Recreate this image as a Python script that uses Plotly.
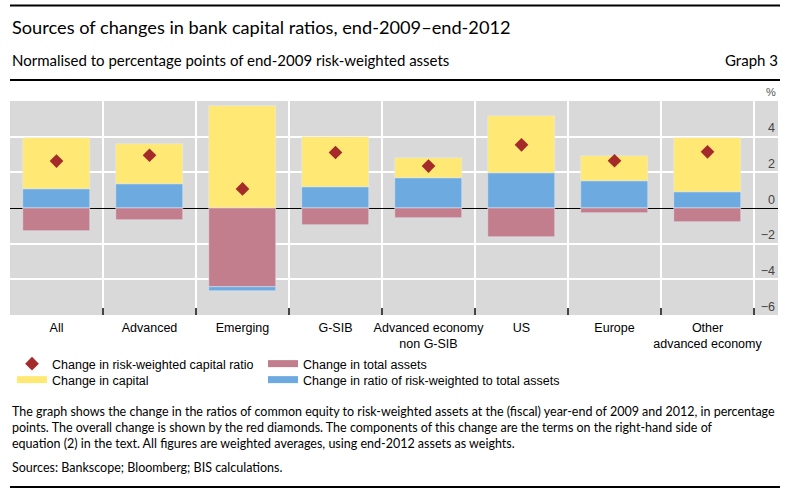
import plotly.graph_objects as go

categories = ["All", "Advanced", "Emerging", "G-SIB", "Advanced economy<br>non G-SIB",
              "US", "Europe", "Other<br>advanced economy"]
total_assets = [-1.31, -0.65, -4.43, -0.93, -0.54, -1.65, -0.26, -0.81]
rw_ratio = [1.06, 1.33, -0.22, 1.17, 1.67, 1.94, 1.50, 0.89]
capital = [2.87, 2.28, 5.72, 2.83, 1.14, 3.23, 1.43, 3.04]
rw_capital_ratio = [2.63, 2.96, 1.07, 3.11, 2.35, 3.54, 2.65, 3.15]
y_ticks = [-6, -4, -2, 0, 2, 4]

YELLOW = "#FFE873"
BLUE = "#6CAAE0"
RED = "#C27E8C"
DIAMOND = "#A52A2A"
BG = "#D9D9D9"

W, H = 793, 489
PL, PR, PT, PB = 10, 778, 101, 315  # plot area in px


def px_x(p):
    return (p - PL) / (PR - PL)


def px_y(p):
    return (PB - p) / (PB - PT)


xs = list(range(len(categories)))
fig = go.Figure()
fig.add_trace(go.Bar(x=xs, y=total_assets, marker_color=RED, width=0.71,
                     showlegend=False, hoverinfo="y"))
fig.add_trace(go.Bar(x=xs, y=rw_ratio, marker_color=BLUE, width=0.71,
                     showlegend=False, hoverinfo="y"))
fig.add_trace(go.Bar(x=xs, y=capital, marker_color=YELLOW, width=0.71,
                     showlegend=False, hoverinfo="y"))
fig.add_trace(go.Scatter(x=xs, y=rw_capital_ratio, mode="markers",
                         marker=dict(symbol="diamond", size=10.5, color=DIAMOND),
                         showlegend=False))

# legend entries (one legend per entry to control spacing)
fig.add_trace(go.Scatter(x=[None], y=[None], mode="markers",
                         marker=dict(symbol="diamond", size=10.5, color=DIAMOND),
                         name="Change in risk-weighted capital ratio", legend="legend"))
fig.add_trace(go.Scatter(x=[None], y=[None], mode="lines",
                         line=dict(color=YELLOW, width=7),
                         name="Change in capital", legend="legend2"))
fig.add_trace(go.Scatter(x=[None], y=[None], mode="lines",
                         line=dict(color=RED, width=7),
                         name="Change in total assets", legend="legend3"))
fig.add_trace(go.Scatter(x=[None], y=[None], mode="lines",
                         line=dict(color=BLUE, width=7),
                         name="Change in ratio of risk-weighted to total assets", legend="legend4"))

ncat = len(categories)
cat_px = (754 - PL) / ncat
xmax = -0.5 + (PR - PL) / cat_px

ARIAL = "Liberation Sans"
CAL = "Lato"

leg_common = dict(orientation="v", xref="container", yref="container", xanchor="left", yanchor="top",
                  font=dict(family=ARIAL, size=12.5, color="black"), bgcolor="rgba(0,0,0,0)",
                  tracegroupgap=0, itemwidth=30)

ROW1, ROW2 = 363, 379
OFF = 14
fig.update_layout(
    width=W, height=H,
    margin=dict(l=PL, r=W - PR, t=PT, b=H - PB, pad=0, autoexpand=False),
    paper_bgcolor="white", plot_bgcolor=BG,
    barmode="relative", bargap=0,
    font=dict(family=ARIAL, size=12.5, color="black"),
    xaxis=dict(range=[-0.5, xmax], tickvals=xs, ticktext=categories, showgrid=False,
               zeroline=False, showline=False, ticks="", tickfont=dict(family=ARIAL, size=12.5),
               tickangle=0, ticklabelstandoff=3,
               minor=dict(tickvals=[i + 0.5 for i in range(ncat)], showgrid=True, gridcolor="white",
                          gridwidth=1.5, ticks="inside", ticklen=7, tickcolor="#444", tickwidth=1.5),
               fixedrange=True),
    yaxis=dict(range=[-6, 6], tickvals=y_ticks, side="right", ticklabelposition="inside top",
               showgrid=True, gridcolor="white", gridwidth=1.5, zeroline=True, zerolinecolor="black",
               zerolinewidth=1.2, showline=False, ticks="", tickfont=dict(family=ARIAL, size=12.5),
               fixedrange=True),
    legend=dict(x=12 / W, y=1 - (ROW1 - OFF) / H, **leg_common),
    legend2=dict(x=12 / W, y=1 - (ROW2 - OFF) / H, **leg_common),
    legend3=dict(x=263 / W, y=1 - (ROW1 - OFF) / H, **leg_common),
    legend4=dict(x=263 / W, y=1 - (ROW2 - OFF) / H, **leg_common),
    showlegend=True,
)

# rules
for yp in [5.5, 80, 487]:
    fig.add_shape(type="line", xref="paper", yref="paper", x0=px_x(10), x1=px_x(780),
                  y0=px_y(yp), y1=px_y(yp), line=dict(color="black", width=1.8), layer="above")

FN = 12.5
annots = [
    dict(text="Sources of changes in bank capital ratios, end-2009–end-2012", x=10, y=27, size=18.2,
         xanchor="left", family=CAL),
    dict(text="Normalised to percentage points of end-2009 risk-weighted assets", x=10, y=60, size=15,
         xanchor="left", family=CAL),
    dict(text="Graph 3", x=780, y=60, size=15, xanchor="right", family=CAL),
    dict(text="%", x=771, y=92, size=11, xanchor="center", family=ARIAL, color="#555"),
    dict(text="The graph shows the change in the ratios of common equity to risk-weighted assets at the (fiscal) year-end of 2009 and 2012, in percentage",
         x=10, y=411, size=FN, xanchor="left", family=CAL),
    dict(text="points. The overall change is shown by the red diamonds. The components of this change are the terms on the right-hand side of",
         x=10, y=427, size=FN, xanchor="left", family=CAL),
    dict(text="equation (2) in the text. All figures are weighted averages, using end-2012 assets as weights.",
         x=10, y=443, size=FN, xanchor="left", family=CAL),
    dict(text="Sources: Bankscope; Bloomberg; BIS calculations.", x=10, y=467, size=FN,
         xanchor="left", family=CAL),
]
for a in annots:
    fig.add_annotation(text=a["text"], xref="paper", yref="paper", x=px_x(a["x"]), y=px_y(a["y"]),
                       xanchor=a["xanchor"], yanchor="middle", showarrow=False,
                       font=dict(family=a["family"], size=a["size"], color=a.get("color", "black")))

fig.write_html("out.html", config={"displayModeBar": False},
               post_script="document.body.style.margin='0';document.body.style.overflow='hidden';")
